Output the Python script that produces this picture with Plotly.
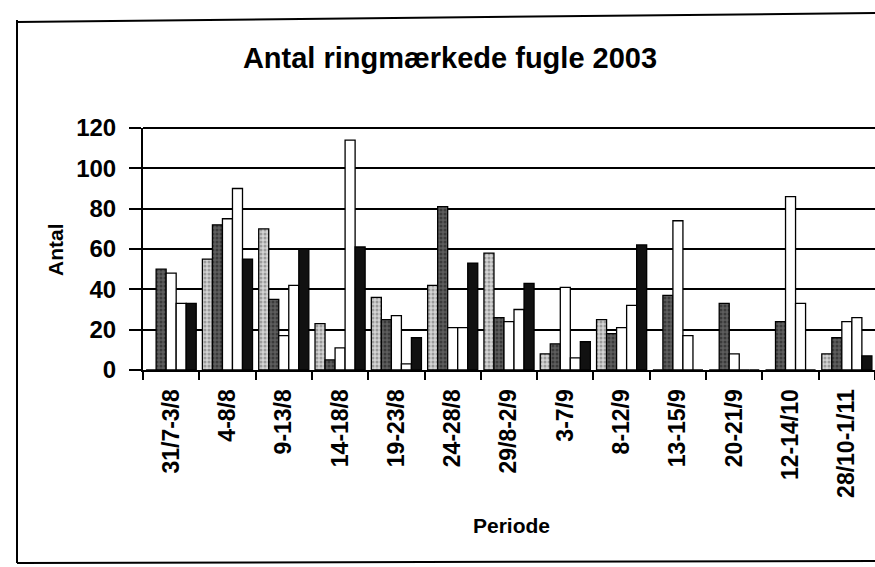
import plotly.graph_objects as go

categories = ["31/7-3/8", "4-8/8", "9-13/8", "14-18/8", "19-23/8", "24-28/8",
              "29/8-2/9", "3-7/9", "8-12/9", "13-15/9", "20-21/9", "12-14/10",
              "28/10-1/11"]
serie_1 = [0, 55, 70, 23, 36, 42, 58, 8, 25, 0, 0, 0, 8]
serie_2 = [50, 72, 35, 5, 25, 81, 26, 13, 18, 37, 33, 24, 16]
serie_3 = [48, 75, 17, 11, 27, 21, 24, 41, 21, 74, 8, 86, 24]
serie_4 = [33, 90, 42, 114, 3, 21, 30, 6, 32, 17, 0, 33, 26]
serie_5 = [33, 55, 60, 61, 16, 53, 43, 14, 62, 0, 0, 0, 7]
y_ticks = [0, 20, 40, 60, 80, 100, 120]

W, H = 875, 567
L, R, T, B = 143, 0, 128, 197
PW, PH = W - L - R, H - T - B


def px(x):
    return (x - L) / PW


def py(y):
    return (H - B - y) / PH


FONT = "Liberation Sans, Arial, sans-serif"
fig = go.Figure()

styles = [
    dict(color="#d4d4d4", pattern=dict(shape=".", fgcolor="#606060", size=4, solidity=0.45)),
    dict(color="#5e5e5e", pattern=dict(shape=".", fgcolor="#151515", size=4, solidity=0.45)),
    dict(color="white"),
    dict(color="white"),
    dict(color="#111111"),
]
for vals, st in zip([serie_1, serie_2, serie_3, serie_4, serie_5], styles):
    marker = dict(line=dict(color="black", width=1.3))
    marker.update(st)
    fig.add_trace(go.Bar(x=categories, y=vals, marker=marker, showlegend=False))

fig.update_layout(
    width=W, height=H,
    margin=dict(l=L, r=R, t=T, b=B, autoexpand=False),
    paper_bgcolor="white", plot_bgcolor="white",
    barmode="group", bargap=0.11, bargroupgap=0,
    font=dict(family=FONT, color="black"),
    title=dict(text="<b>Antal ringmærkede fugle 2003</b>", xref="container", yref="container",
               x=450 / W, y=1 - 58 / H, xanchor="center", yanchor="middle",
               font=dict(size=29, family=FONT, color="black")),
    xaxis=dict(type="category", range=[-0.5, 12.5], showline=True, linecolor="black", linewidth=2,
               ticks="outside", ticklen=8, tickwidth=2, tickcolor="black", tickson="boundaries",
               tickangle=-90, tickfont=dict(size=23, family=FONT, color="black", weight="bold"),
               ticklabelstandoff=8, showgrid=False, automargin=False),
    yaxis=dict(range=[0, 120], tickvals=y_ticks, showline=True, linecolor="black", linewidth=2,
               ticks="outside", ticklen=12, tickwidth=2, tickcolor="black",
               showgrid=True, gridcolor="black", gridwidth=2, zeroline=False,
               tickfont=dict(size=24, family=FONT, color="black", weight="bold"),
               ticklabelstandoff=8, automargin=False),
    annotations=[
        dict(text="<b>Antal</b>", x=px(55), y=py(250), xref="paper", yref="paper",
             textangle=-90, showarrow=False, xanchor="center", yanchor="middle",
             font=dict(size=21, family=FONT, color="black")),
        dict(text="<b>Periode</b>", x=px(512), y=py(525), xref="paper", yref="paper",
             showarrow=False, xanchor="center", yanchor="middle",
             font=dict(size=21, family=FONT, color="black")),
    ],
    shapes=[
        dict(type="line", xref="paper", yref="paper", x0=px(17), x1=px(17), y0=py(20), y1=py(563),
             line=dict(color="black", width=2)),
        dict(type="line", xref="paper", yref="paper", x0=px(17), x1=px(875), y0=py(22), y1=py(13),
             line=dict(color="black", width=2)),
        dict(type="line", xref="paper", yref="paper", x0=px(17), x1=px(875), y0=py(563), y1=py(561),
             line=dict(color="black", width=2)),
        dict(type="line", xref="paper", yref="paper", x0=0, x1=1, y0=1, y1=1,
             line=dict(color="black", width=2)),
    ],
)

fig.write_html("out.html", config={"displayModeBar": False},
               post_script="document.body.style.margin='0';document.body.style.overflow='hidden';")
